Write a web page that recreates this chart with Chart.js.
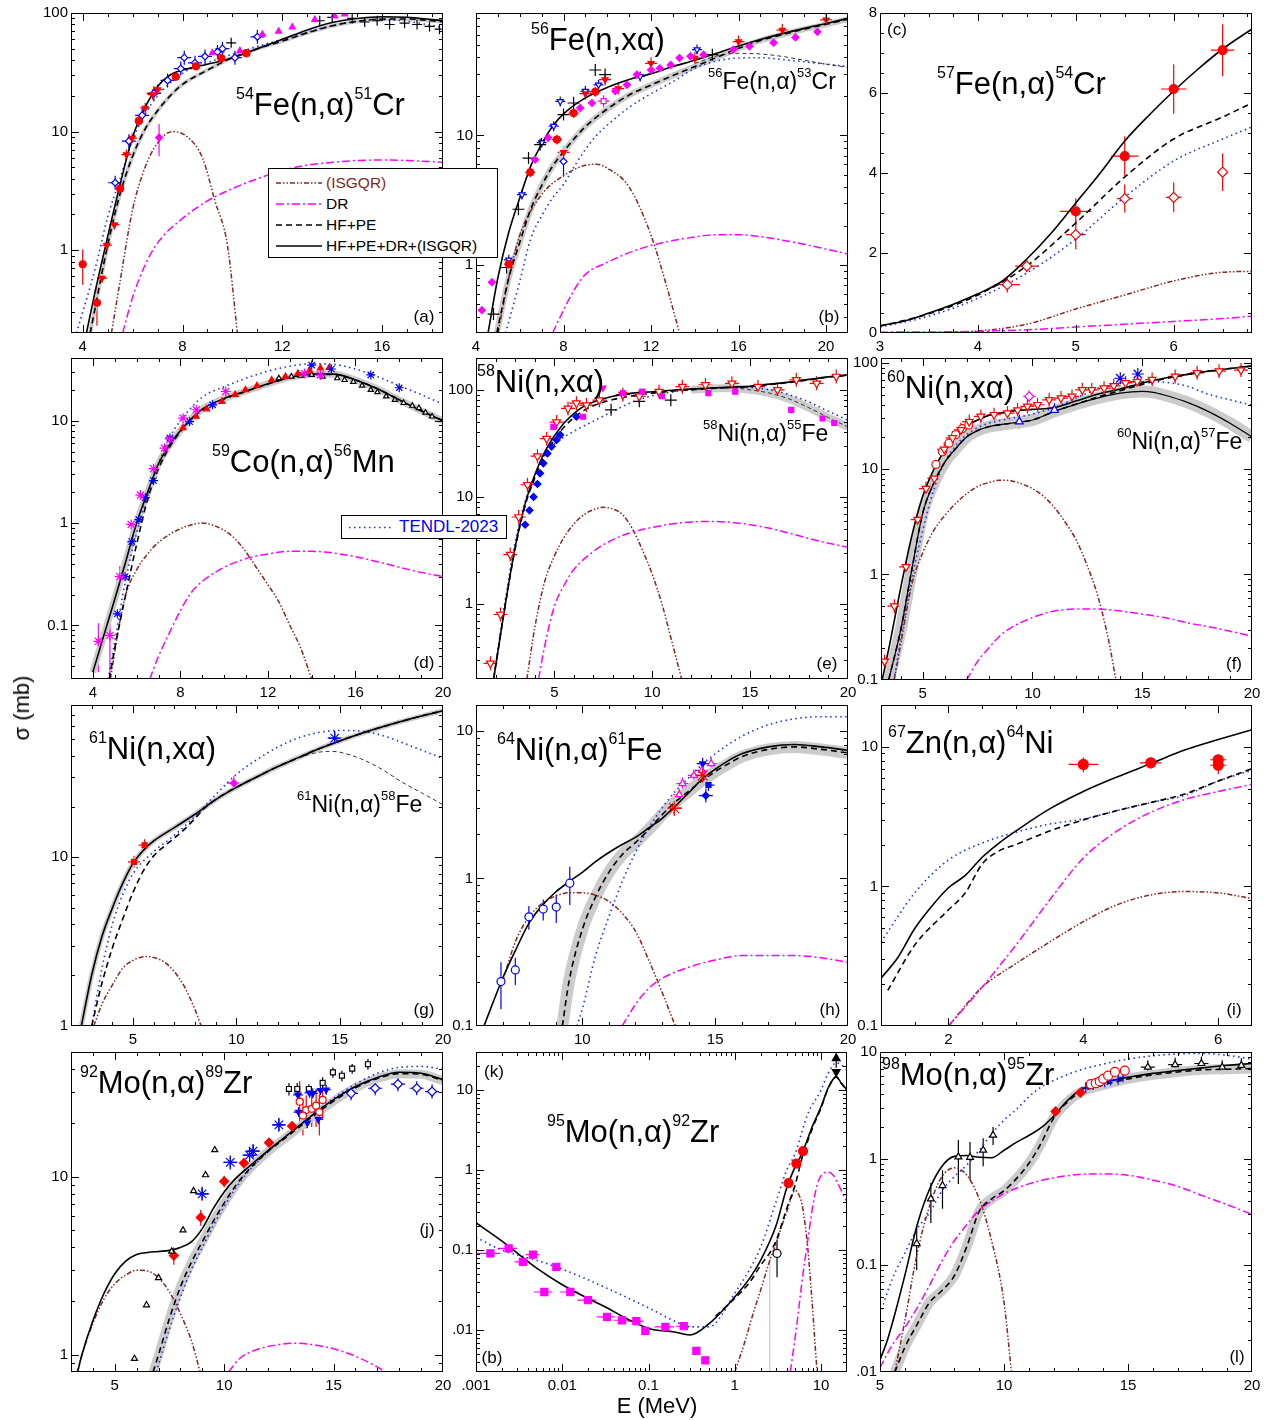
<!DOCTYPE html>
<html lang="en">
<head>
<meta charset="UTF-8">
<title>(n,alpha) cross sections</title>
<script src="https://cdn.jsdelivr.net/npm/chart.js"></script>
<style>
  body { margin: 0; background: #fff; font-family: "Liberation Sans", Arial, sans-serif; }
  #page { position: relative; width: 1271px; height: 1420px; overflow: hidden; }
  canvas { position: absolute; z-index: 1; }
  .ttl { position: absolute; z-index: 2; font-size: 31px; line-height: 31px; white-space: nowrap; color: #000; }
  .ttl sup { font-size: 16px; position: relative; top: -16px; vertical-align: baseline; }
  .ttl.sub { font-size: 23px; line-height: 23px; }
  .ttl.sub sup { font-size: 13px; top: -12px; }
  .tag { position: absolute; z-index: 2; font-size: 17px; transform: translate(-50%, -50%); }
  .axt { position: absolute; z-index: 2; font-size: 22px; white-space: nowrap; transform: translate(-50%, -50%); }
  .lgd { position: absolute; z-index: 3; background: #fff; border: 1px solid #000; box-sizing: border-box; }
  .lgd svg { position: absolute; left: 0; top: 0; }
  .lgd span { position: absolute; white-space: nowrap; font-size: 15.5px; line-height: 18px; }
</style>
</head>
<body>
<div id="page">
  <!-- reaction labels -->
  <div class="ttl" style="left:236px;top:89px"><sup>54</sup>Fe(n,α)<sup>51</sup>Cr</div>
  <div class="ttl" style="left:531px;top:24px"><sup>56</sup>Fe(n,xα)</div>
  <div class="ttl sub" style="left:708px;top:70px"><sup>56</sup>Fe(n,α)<sup>53</sup>Cr</div>
  <div class="ttl" style="left:937px;top:68px"><sup>57</sup>Fe(n,α)<sup>54</sup>Cr</div>
  <div class="ttl" style="left:212px;top:446px"><sup>59</sup>Co(n,α)<sup>56</sup>Mn</div>
  <div class="ttl" style="left:477px;top:366px"><sup>58</sup>Ni(n,xα)</div>
  <div class="ttl sub" style="left:703px;top:422px"><sup>58</sup>Ni(n,α)<sup>55</sup>Fe</div>
  <div class="ttl" style="left:887px;top:372px"><sup>60</sup>Ni(n,xα)</div>
  <div class="ttl sub" style="left:1117px;top:430px"><sup>60</sup>Ni(n,α)<sup>57</sup>Fe</div>
  <div class="ttl" style="left:89px;top:733px"><sup>61</sup>Ni(n,xα)</div>
  <div class="ttl sub" style="left:297px;top:793px"><sup>61</sup>Ni(n,α)<sup>58</sup>Fe</div>
  <div class="ttl" style="left:497px;top:734px"><sup>64</sup>Ni(n,α)<sup>61</sup>Fe</div>
  <div class="ttl" style="left:888px;top:727px"><sup>67</sup>Zn(n,α)<sup>64</sup>Ni</div>
  <div class="ttl" style="left:80px;top:1067px"><sup>92</sup>Mo(n,α)<sup>89</sup>Zr</div>
  <div class="ttl" style="left:547px;top:1116px"><sup>95</sup>Mo(n,α)<sup>92</sup>Zr</div>
  <div class="ttl" style="left:882px;top:1059px"><sup>98</sup>Mo(n,α)<sup>95</sup>Zr</div>

  <!-- panel tags -->
  <div class="tag" style="left:424px;top:317px">(a)</div>
  <div class="tag" style="left:829px;top:317px">(b)</div>
  <div class="tag" style="left:897px;top:30px">(c)</div>
  <div class="tag" style="left:424px;top:663px">(d)</div>
  <div class="tag" style="left:827px;top:664px">(e)</div>
  <div class="tag" style="left:1234px;top:664px">(f)</div>
  <div class="tag" style="left:424px;top:1010px">(g)</div>
  <div class="tag" style="left:830px;top:1010px">(h)</div>
  <div class="tag" style="left:1234px;top:1010px">(i)</div>
  <div class="tag" style="left:427px;top:1230px">(j)</div>
  <div class="tag" style="left:494px;top:1072px">(k)</div>
  <div class="tag" style="left:492px;top:1358px">(b)</div>
  <div class="tag" style="left:1237px;top:1357px">(l)</div>

  <!-- legends -->
  <div class="lgd" style="left:268px;top:168px;width:230px;height:90px">
    <svg width="230" height="90">
      <line x1="7" y1="14" x2="53" y2="14" stroke="#8b2323" stroke-width="1.5" stroke-dasharray="5 2 1.5 2 1.5 2"/>
      <line x1="7" y1="35" x2="53" y2="35" stroke="#ff00ff" stroke-width="1.5" stroke-dasharray="8 3 2 3"/>
      <line x1="7" y1="56" x2="53" y2="56" stroke="#000" stroke-width="1.5" stroke-dasharray="6 4"/>
      <line x1="7" y1="77" x2="53" y2="77" stroke="#000" stroke-width="1.5"/>
    </svg>
    <span style="left:57px;top:5px;color:#8b2323">(ISGQR)</span>
    <span style="left:57px;top:26px">DR</span>
    <span style="left:57px;top:47px">HF+PE</span>
    <span style="left:57px;top:68px">HF+PE+DR+(ISGQR)</span>
  </div>
  <div class="lgd" style="left:341px;top:515px;width:166px;height:24px">
    <svg width="166" height="24">
      <line x1="7" y1="11.5" x2="52" y2="11.5" stroke="#1a2cff" stroke-width="1.5" stroke-dasharray="1.5 3.5"/>
    </svg>
    <span style="left:57px;top:2px;color:#0000ff;font-size:17px">TENDL-2023</span>
  </div>

  <div class="axt" style="left:22px;top:708px;transform:translate(-50%,-50%) rotate(-90deg)">σ (mb)</div>
  <div class="axt" style="left:657px;top:1406px">E (MeV)</div>
</div>

<script>
const FONT = '"Liberation Sans", Arial, sans-serif';
const PADL = 48, PADT = 12, PADR = 18, PADB = 26;

// ---------- (a) 54Fe(n,a)51Cr ----------
const a_isgqr = [[5.15,0.2],[5.5,0.55],[6,2.2],[6.5,5],[7,8],[7.6,10],[8.2,9],[8.8,6],[9.3,2.6],[9.8,1.1],[10.2,0.2]];
const a_dr = [[5.6,0.2],[6,0.4],[6.5,0.75],[7,1.15],[8,1.85],[9,2.6],[10,3.3],[11,4],[12,4.7],[13,5.2],[14,5.5],[15,5.7],[16,5.75],[17,5.7],[18.5,5.5]];
const a_hfpe = [[4.3,0.2],[5,1.1],[5.5,3],[6,6.2],[6.5,10.5],[7,15],[7.5,20],[8,25],[9,33],[10,42],[11,50],[12,58],[13,68],[14,78],[15,85],[16,89],[17,89],[18,86],[18.5,84]];
const a_total = [[4.15,0.2],[4.5,0.45],[5,1.3],[5.5,3.6],[6,9],[6.5,16],[7,24],[7.5,30],[8,33],[8.5,35],[9,37],[10,42],[11,50],[12,60],[13,72],[14,83],[15,90],[16,93],[17,92],[18,88],[18.5,86]];
const a_tendl = [[3.75,0.2],[4.5,0.7],[5,1.9],[5.5,4],[6,8.5],[6.5,14],[7,20],[8,31],[9,38],[10,45],[12,60],[14,78],[15,85],[16,88],[17,85],[18.5,75]];
const a_redC = [[4,0.76],[4.57,0.36],[5.5,3.3],[6.25,12.3],[7.73,29],[8.54,35.5],[9.55,41.7],[10.56,45.8]];
const a_redC_err = [0.25,0.13,0.4,1.2,0,0,0,0];
const a_redV = [[4.77,0.58],[4.97,1.1],[5.27,1.64],[5.75,6.4],[5.98,8.8],[6.5,15.8],[6.8,20.5],[7.0,22.6]];
const a_magD = [[7.06,8.9]];
const a_magT = [[9.2,46],[10.3,48],[11.2,66],[11.85,70],[12.4,76],[13.3,88],[14.1,94],[14.5,98]];
const a_blueD = [[5.3,3.7],[5.85,8.3],[6.38,13.7],[6.85,21],[7.4,27],[7.93,34],[8.07,42],[8.5,38],[8.9,43],[9.4,47],[9.6,50],[10.1,42],[11.0,63]];
const a_blk = [[9.95,56],[13.5,86],[14,92],[14.8,90],[15.3,84],[15.8,86],[16.3,80],[16.9,82],[17.4,80],[17.9,77],[18.3,73]];

// ---------- (b) 56Fe(n,xa) ----------
const b_total = [[4.55,0.3],[5,0.8],[5.5,1.8],[6,3.3],[6.5,5.8],[7,8.6],[7.5,11.8],[8,14.7],[9,19.5],[10,23.5],[11,27],[12,30],[13,34],[14,38],[15,43],[16,49],[17,55],[18,61],[19,67],[20,73],[21,80]];
const b_hfpe = [[4.95,0.3],[5.5,0.8],[6,1.5],[6.5,2.7],[7,4.1],[7.5,5.8],[8,7.5],[8.5,9.5],[9,11.7],[10,16],[11,20.5],[12,24.5],[13,29],[14,34],[15,40],[16,47],[17,54],[18,60],[19,66],[20,72],[21,79]];
const b_part = [[14,36],[15,41],[15.5,42.5],[16,43],[17,42.5],[18,40.7],[19,38],[20,35.5],[21,33.5]];
const b_tendl = [[5.35,0.3],[6,0.75],[6.5,1.6],[7,2.4],[7.5,3.3],[8,4.2],[8.5,5.8],[9,7.8],[9.5,10],[10,12],[11,16.5],[12,21],[13,26],[14,33],[15,37.5],[16,39.6],[17,39.8],[18,38.5],[19,37],[20,35.5],[21,34]];
const b_isgqr = [[5,0.3],[5.5,0.8],[6,1.7],[7,3.5],[8,4.9],[9,5.9],[9.5,6],[10,5.6],[11,4],[12,1.7],[12.7,0.7],[13.3,0.3]];
const b_dr = [[7.5,0.3],[8,0.45],[8.5,0.65],[9,0.85],[10,1.05],[11,1.25],[12,1.42],[13,1.55],[14,1.65],[15,1.72],[16,1.72],[17,1.66],[18,1.56],[19,1.45],[20,1.33],[21,1.22]];
const b_magD = [[4.27,0.45],[4.73,0.74],[6.7,6.5],[7.3,9.6],[8.76,16.3],[9.3,17.8],[10.36,22],[10.9,24.6],[11.35,29.5],[12,32],[12.4,33],[12.9,35],[13.3,39.6],[13.8,40.8],[14.4,42],[15.76,46],[16.5,48.7],[17.6,52],[18.6,57],[19.6,63]];
const b_redC = [[5.5,1.02],[6.48,5.2],[7.7,9.3],[8.46,14.9],[9.45,21.7]];
const b_redV = [[8,7.4],[9,21],[9.9,27],[10.5,23],[12,36],[14,39.6],[16,53],[18,65],[20,78]];
const b_blk = [[4.8,0.42],[5.4,0.96],[5.94,2.7],[6.4,6.7],[6.93,8.5],[8,14.5],[8.46,17.8],[9.45,32],[9.9,29.5],[14.8,42]];
const b_blueV = [[5.5,1.1],[6.1,3.5],[7,8.8],[7.55,11.8],[7.85,18.3],[9,22],[9.6,24.6],[11.5,28.5],[14.1,46]];
const b_blueD = [[8,6.3]];
const b_magS = [[9.83,18.4]];

// ---------- (c) 57Fe(n,a)54Cr ----------
const c_total = [[3,0.18],[3.25,0.3],[3.5,0.5],[3.75,0.72],[4,0.98],[4.25,1.3],[4.5,1.85],[4.75,2.5],[5,3.25],[5.25,4.0],[5.5,4.8],[5.75,5.45],[6,6.05],[6.25,6.6],[6.5,7.1],[6.8,7.6]];
const c_hfpe = [[3,0.17],[3.5,0.48],[4,0.95],[4.5,1.68],[5,2.75],[5.5,3.9],[6,4.85],[6.5,5.4],[6.8,5.75]];
const c_tendl = [[3,0.15],[3.5,0.42],[4,0.87],[4.5,1.5],[5,2.35],[5.5,3.4],[6,4.3],[6.5,4.85],[6.8,5.15]];
const c_isgqr = [[3,0],[3.5,0.01],[4,0.05],[4.5,0.22],[5,0.6],[5.5,0.95],[6,1.3],[6.5,1.52],[6.8,1.54]];
const c_dr = [[3,0.02],[4,0.04],[4.5,0.08],[5,0.15],[5.5,0.22],[6,0.29],[6.5,0.36],[6.8,0.42]];
const c_redC = [[5,3.04],[5.5,4.42],[6,6.1],[6.5,7.07]];
const c_redC_ey = [0.33,0.5,0.62,0.65];
const c_redC_ex = [0.16,0.14,0.13,0.12];
const c_redD = [[4.3,1.21],[4.5,1.67],[5,2.46],[5.5,3.36],[6,3.39],[6.5,4.02]];
const c_redD_ey = [0.2,0.15,0.37,0.35,0.37,0.47];
const c_redD_ex = [0.13,0.12,0.1,0.08,0.08,0];

// ---------- (d) 59Co(n,a)56Mn ----------
const d_total = [[4,0.035],[4.5,0.08],[5,0.18],[5.5,0.42],[6,1],[6.5,2],[7,3.8],[7.5,5.8],[8,8],[8.5,10.5],[9,13],[10,16.5],[11,19.5],[12,23],[13,26.5],[14,28.5],[15,28.5],[16,25],[17,20.5],[18,16],[19,12.5],[20,10]];
const d_hfpe = [[4.75,0.03],[5,0.06],[5.5,0.2],[6,0.62],[6.5,1.7],[7,3.4],[7.5,5.5],[8,7.8],[8.5,10.3],[9,12.8],[10,16.3],[11,19.3],[12,22.8],[13,26.3],[14,28.3],[15,28.3],[16,25],[17,20.5],[18,16],[19,12.5],[20,10]];
const d_tendl = [[4.7,0.03],[5,0.07],[5.5,0.28],[6,0.8],[6.5,1.9],[7,3.8],[7.5,6.8],[8,10],[9,17],[10,21.5],[11,26],[12,30.5],[13,34],[14,36],[15,35.5],[16,32],[17,27],[18,22],[19,18],[20,14.5]];
const d_isgqr = [[4.8,0.03],[5.2,0.1],[5.5,0.2],[6,0.35],[6.5,0.5],[7,0.65],[8,0.88],[9,1],[10,0.85],[10.5,0.7],[11,0.52],[11.5,0.36],[12,0.25],[12.5,0.17],[13,0.1],[13.5,0.06],[14,0.03]];
const d_dr = [[6.6,0.03],[7,0.05],[7.5,0.085],[8,0.14],[8.5,0.21],[9,0.27],[10,0.37],[11,0.45],[12,0.5],[13,0.53],[14,0.53],[15,0.51],[16,0.47],[17,0.42],[18,0.37],[19,0.33],[20,0.3]];
const d_mag = [[4.25,0.07],[4.78,0.08],[5.23,0.3],[5.75,0.97],[6.17,1.88],[6.77,3.4],[7.27,5.4],[7.52,6.6],[8.12,10.6],[8.72,12.8],[10.07,19.3],[13.67,29],[14.4,28]];
const d_mag_err = [0.035,0.05,0.08,0,0,0,0,0,0,0,0,0,0];
const d_blue = [[5.12,0.13],[5.47,0.3],[5.78,0.66],[6.1,1.08],[6.4,1.77],[6.77,2.6],[7.52,6.8],[8.42,9.8],[9.47,14.3],[14,35],[14.9,32],[16.7,28],[18,21]];
const d_red = [[8.12,8.5],[8.72,11],[9.2,13],[9.9,15.4],[10.5,18],[10.97,20],[11.5,22],[12.17,25],[12.8,27],[13.37,29],[13.9,31],[14.4,32.7],[14.8,33]];
const d_blk = [[12.5,26],[13.07,27],[13.5,27.5],[14,28],[14.5,27],[15.17,26],[15.5,25],[15.9,24],[16.3,22],[16.7,20],[17,19],[17.4,17.3],[17.8,16],[18.2,14.9],[18.6,14],[18.9,13.3],[19.2,12],[19.5,11]];

// ---------- (e) 58Ni(n,xa) ----------
const e_total = [[1.9,0.2],[2.2,0.45],[2.5,1],[3,3.4],[3.5,8.5],[4,16],[4.5,26],[5,37],[5.5,49],[6,60],[6.5,70],[7,77],[8,87],[9,93],[10,96],[11,99],[12,102],[13,104],[14,106],[15,108],[16,113],[17,118],[18,125],[19,132],[20,138]];
const e_hfpe = [[1.9,0.2],[2.2,0.45],[2.5,1],[3,3.3],[3.5,8.2],[4,15],[4.5,24],[5,34],[5.5,45],[6,55],[6.5,64],[7,71],[8,81],[9,88],[10,93],[11,97],[12,100],[13,103],[14,105],[15,107],[16,112],[17,117],[18,124],[19,131],[20,137]];
const e_part = [[12,100],[13,103],[14,104],[15,100],[16,93],[17,82],[18,68],[19,55],[20,45]];
const e_tendl = [[1.9,0.2],[2.5,1.1],[3,3.8],[3.5,9],[4,16],[4.5,24],[5,31],[6,41],[7,51],[8,63],[9,77],[10,88],[11,95],[12,100],[13,103],[14,105],[15,105],[16,100],[17,90],[18,77],[19,63],[20,52]];
const e_isgqr = [[3.6,0.2],[4,0.6],[4.5,1.6],[5,2.8],[5.5,4.2],[6,5.6],[6.5,6.8],[7,7.6],[7.5,8],[8,7.7],[8.5,6.8],[9,5],[9.5,3.2],[10,1.9],[10.5,1],[11,0.45],[11.5,0.2]];
const e_dr = [[4.2,0.2],[4.5,0.4],[5,0.95],[5.5,1.5],[6,2.1],[7,3.1],[8,4],[9,4.7],[10,5.2],[11,5.6],[12,5.85],[13,5.9],[14,5.8],[15,5.5],[16,5.1],[17,4.6],[18,4.1],[19,3.7],[20,3.4]];
const e_redV = [[1.74,0.28],[2.25,0.8],[2.75,2.9],[3.18,6.5],[3.63,13],[4.14,24],[4.61,35],[5.12,50],[5.7,67],[6.13,75],[6.64,72],[7.3,80],[8.5,90],[9.34,87],[10.35,96],[11.54,107],[12.72,111],[14.07,115],[15.4,107],[16.4,100],[17.36,124],[18.4,115],[19.4,133]];
const e_mag = [[4.95,45],[6.47,56],[8.5,93],[9.5,96],[10.5,87],[12.87,93],[14.24,96],[17.1,65],[18.7,54],[19.3,49]];
const e_magV = [[7.48,104]];
const e_blue = [[3.51,5.5],[3.73,7.5],[3.94,10],[4.14,13.2],[4.27,16.6],[4.44,20.6],[4.65,25.5],[4.86,29.5],[5.12,34],[5.3,38],[6.13,56]];
const e_blk = [[7.9,65],[9.34,78],[10.95,80]];

// ---------- (f) 60Ni(n,xa) ----------
const f_total = [[3.15,0.1],[3.5,0.22],[4,0.75],[4.5,2.3],[5,5.5],[5.5,9.8],[6,15],[6.5,21],[7,25.5],[7.5,29],[8,32],[9,35],[10,36.5],[11,38],[12,44],[13,51],[14,57],[15,65],[16,72],[17,78],[18,84],[19,89],[20,94]];
const f_hfpe = [[3.45,0.1],[4,0.3],[4.5,1.1],[5,3.8],[5.5,7.3],[6,11.5],[6.5,15.5],[7,20],[7.5,23],[8,25],[9,27],[10,29],[11,35],[12,41],[13,48],[14,55],[15,63],[16,71],[17,78],[18,84],[19,89],[20,94]];
const f_part = [[3.45,0.1],[4,0.3],[4.5,1.1],[5,3.8],[5.5,7.3],[6,11.5],[6.5,15.5],[7,20],[7.5,23],[8,25],[9,27],[10,29],[11,35],[12,41],[13,47],[14,52],[15,54],[15.5,53],[16,50],[17,43],[18,35],[19,27],[20,20]];
const f_tendl = [[3.7,0.1],[4,0.25],[4.5,0.9],[5,2.6],[5.5,6.3],[6,11.5],[6.5,16.5],[7,21],[7.5,24.5],[8,27],[9,30],[10,33],[11,38],[12,47],[13,57],[14,64],[15,67],[16,66],[17,61],[18,51],[19,45],[20,40]];
const f_isgqr = [[3.7,0.1],[4,0.22],[4.5,0.8],[5,1.6],[5.5,2.6],[6,3.6],[6.5,4.7],[7,5.8],[7.5,6.8],[8,7.4],[8.5,7.8],[9,7.7],[9.5,7.2],[10,6.5],[10.5,5.5],[11,4.3],[11.5,3.1],[12,2.1],[12.5,1.2],[13,0.6],[13.5,0.22],[13.8,0.1]];
const f_dr = [[7,0.1],[7.5,0.15],[8,0.2],[8.5,0.26],[9,0.31],[10,0.39],[11,0.45],[12,0.47],[13,0.47],[14,0.45],[15,0.42],[16,0.39],[17,0.35],[18,0.32],[19,0.29],[20,0.26]];
const f_redV = [[3.26,0.15],[3.71,0.5],[4.24,1.18],[4.77,3.3],[5.15,6.5],[5.53,8.1],[5.98,15.3],[6.36,19.6],[6.74,23.4],[7.12,28],[7.65,31.3],[8.25,32.5],[8.86,33.6],[9.32,36],[9.77,39],[10.23,40.4],[10.76,45],[11.3,46.7],[11.8,48.5],[12.27,56],[12.7,56],[13.26,58],[13.7,61],[14.24,65],[14.77,67],[15.45,70],[16.5,75],[17.5,81],[18.5,84],[19.5,86]];
const f_redO = [[5.6,11],[5.9,14.5],[6.2,17.5],[6.5,21],[6.8,24],[7.1,26]];
const f_magD = [[9.85,48.5]];
const f_blueT = [[9.4,28],[11,36]];
const f_blueS = [[14.0,72],[14.8,79]];

// ---------- (g) 61Ni(n,xa) ----------
const g_total = [[2.5,1],[3,2],[3.5,3.4],[4,5],[4.5,7],[5,9.2],[5.5,11],[6,12.5],[7,15],[8,18],[9,22],[10,26],[11,30],[12,34.5],[13,39],[14,44],[15,49],[16,54],[17,59],[18,64],[19,69],[20,74]];
const g_hfpe = [[3,1],[3.5,1.8],[4,2.9],[4.5,4.3],[5,6.2],[5.5,8.3],[6,10.2],[6.5,11.6],[7,13],[7.5,14.7],[8,17],[8.5,19.8],[9,22],[10,26],[11,30],[12,34.5],[13,39],[14,44],[15,49],[16,54],[17,59],[18,64],[19,69],[20,74]];
const g_part = [[13,39],[14,42],[14.5,42.5],[15,42],[16,38.5],[17,33.5],[18,28],[19,24],[20,20.5]];
const g_tendl = [[3,1],[3.5,2.2],[4,4],[4.5,6],[5,8],[6,10.8],[7,13.5],[8,17.5],[9,23.5],[10,31],[11,38],[12,45],[13,51],[14,55],[15,56.5],[16,56],[17,53],[18,48],[19,43],[20,38.5]];
const g_isgqr = [[3.1,1],[3.5,1.35],[4,1.75],[4.5,2.2],[5,2.45],[5.6,2.58],[6,2.55],[6.5,2.4],[7,2.1],[7.5,1.7],[8,1.25],[8.3,1]];
const g_red = [[5.05,9.4],[5.56,11.8]];
const g_mag = [[9.88,27.5]];
const g_blue = [[14.76,50.9]];

// ---------- (h) 64Ni(n,a)61Fe ----------
const h_total = [[6.3,0.1],[7,0.21],[7.5,0.33],[8,0.5],[8.5,0.66],[9,0.81],[9.5,0.95],[10,1.1],[10.5,1.3],[11,1.5],[11.5,1.7],[12,1.9],[12.5,2.2],[13,2.55],[13.5,3.1],[14,3.8],[14.5,4.7],[15,5.5],[15.5,6.3],[16,7],[17,7.8],[18,8.1],[19,7.8],[20,7.4]];
const h_hfpe = [[9.25,0.1],[9.5,0.2],[10,0.45],[10.5,0.75],[11,1.1],[11.5,1.45],[12,1.75],[12.5,2.15],[13,2.7],[13.5,3.3],[14,3.9],[14.5,4.6],[15,5.3],[15.5,6],[16,6.7],[17,7.5],[18,7.8],[19,7.5],[20,7.1]];
const h_tendl = [[9.8,0.1],[10,0.13],[10.5,0.3],[11,0.55],[11.5,0.95],[12,1.5],[12.5,2.2],[13,3],[13.5,3.9],[14,4.8],[14.5,5.9],[15,7],[16,9.2],[17,11],[18,12.1],[19,12.5],[20,12.5]];
const h_isgqr = [[7,0.2],[7.5,0.38],[8,0.55],[8.5,0.68],[9,0.76],[9.5,0.8],[10,0.8],[10.5,0.77],[11,0.7],[11.5,0.58],[12,0.44],[12.5,0.28],[13,0.17],[13.5,0.1]];
const h_dr = [[11.5,0.1],[12,0.14],[12.5,0.18],[13,0.21],[14,0.25],[15,0.28],[16,0.3],[17,0.3],[18,0.3],[19,0.29],[20,0.27]];
const h_blueO = [[6.94,0.2],[7.48,0.24],[7.99,0.55],[8.53,0.62],[9.02,0.64],[9.53,0.93]];
const h_blueO_err = [0.07,0.05,0.1,0.1,0.14,0.27];
const h_redS = [[13.46,3.0],[14.53,5.0]];
const h_magT = [[13.65,3.7],[13.77,4.4],[14.2,5],[14.5,5.4],[14.85,6.0]];
const h_blueV = [[14.53,6.0]];
const h_blueSq = [[14.75,4.3]];
const h_blueD = [[14.65,3.65]];

// ---------- (i) 67Zn(n,a)64Ni ----------
const i_total = [[1,0.22],[1.25,0.31],[1.5,0.5],[1.75,0.72],[2,0.98],[2.25,1.2],[2.5,1.62],[2.75,2.05],[3,2.5],[3.5,3.6],[4,4.8],[4.5,6.1],[5,7.6],[5.5,9.5],[6,11.3],[6.5,13.3]];
const i_hfpe = [[1.1,0.18],[1.5,0.38],[2,0.68],[2.25,0.9],[2.5,1.45],[2.75,1.8],[3,2],[3.5,2.5],[4,3],[4.5,3.5],[5,4],[5.5,4.6],[6,5.7],[6.5,7]];
const i_tendl = [[1,0.4],[1.5,0.9],[2,1.55],[2.5,2.05],[3,2.45],[3.5,2.8],[4,3.05],[4.5,3.5],[5,4],[5.5,4.5],[6,5.7],[6.5,6.8]];
const i_dr = [[2,0.1],[2.5,0.19],[3,0.38],[3.5,0.8],[4,1.6],[4.5,2.5],[5,3.4],[5.5,4.2],[6,4.8],[6.5,5.4]];
const i_isgqr = [[2,0.1],[2.5,0.19],[3,0.28],[3.5,0.4],[4,0.56],[4.5,0.74],[5,0.87],[5.5,0.92],[6,0.9],[6.5,0.82]];
const i_red = [[4,7.5],[5,7.7],[6,8.1],[6,7.4]];
const i_red_ey = [0.9,0.7,0.7,1.0];
const i_red_ex = [0.22,0.16,0.12,0.12];

// ---------- (j) 92Mo(n,a)89Zr ----------
const j_total = [[3.3,0.8],[3.5,1],[4,1.55],[4.5,2.2],[5,2.85],[5.5,3.35],[6,3.65],[6.5,3.75],[7,3.8],[7.5,3.85],[8,4.0],[8.5,4.3],[9,5.1],[9.5,6.6],[10,8.2],[10.5,9.7],[11,11],[12,14],[13,17.5],[14,22],[15,27],[16,32],[17,36],[18,38.5],[19,38],[20,35]];
const j_hfpe = [[6.75,0.8],[7,1.0],[7.5,1.6],[8,2.4],[8.5,3.3],[9,4.3],[9.5,5.6],[10,7.1],[10.5,8.8],[11,10.5],[12,13.8],[13,17.2],[14,21.5],[15,26.5],[16,31.5],[17,35.5],[18,37.8],[19,37.5],[20,34.5]];
const j_tendl = [[6.9,0.8],[7.5,1.4],[8,2.1],[8.5,3],[9,4],[9.5,5.3],[10,6.8],[10.5,8.5],[11,10.3],[12,13.8],[13,17.5],[14,22],[15,27.5],[16,33],[17,38],[18,41],[19,41.5],[20,40]];
const j_isgqr = [[3.3,0.8],[3.5,1],[4,1.5],[4.5,2.05],[5,2.5],[5.5,2.8],[6,2.98],[6.5,2.95],[7,2.7],[7.5,2.25],[8,1.7],[8.5,1.2],[8.9,0.8]];
const j_dr = [[10.2,0.8],[10.7,0.95],[11.5,1.07],[12.5,1.14],[13.3,1.16],[14,1.14],[15,1.08],[16,0.98],[16.8,0.88],[17.4,0.8]];
const j_blkT = [[5.9,0.95],[6.45,1.9],[7.0,2.7],[7.6,3.8],[8.12,5],[8.6,8.3],[9.15,10.2],[9.57,14.1]];
const j_redD = [[7.7,3.6],[8.93,5.9],[10,9.4],[10.9,11.9],[12.05,15.5],[13.1,19.2]];
const j_redD_err = [0.4,0.6,0.7,0.8,0.9,1];
const j_blueS = [[8.99,8],[10.28,12],[11.16,13.2],[11.32,13.9],[12.5,19.5]];
const j_blkSq = [[12.96,31],[13.34,31],[13.87,31],[14.5,33.6],[14.97,38.4],[15.38,36.8],[15.85,40.3],[16.57,42.7]];
const j_blkSq_err = [2.5,2.5,2,2.5,2.5,2.5,2.5,3];
const j_blueD = [[15.8,29.3],[16.9,31.3],[17.94,33],[18.8,31.3],[19.5,30]];
const j_blueV = [[13.37,28.7],[13.9,29.5],[14.05,29.3],[14.4,30.5],[14.66,30.7],[13.4,23],[13.8,20],[14.3,21]];
const j_redO = [[13.45,26.3],[13.75,23.6],[14.0,24],[14.2,25],[14.5,26.9],[13.6,22],[14.35,23]];
const j_redO_err = [8,5,5,6,6,5,6];

// ---------- (k) 95Mo(n,a)92Zr ----------
const k_total = [[0.001,0.22],[0.002,0.13],[0.005,0.06],[0.01,0.037],[0.03,0.02],[0.1,0.0105],[0.2,0.0095],[0.3,0.0087],[0.5,0.012],[1,0.026],[1.5,0.045],[2,0.075],[3,0.2],[4,0.6],[5,1.1],[6,1.6],[8,3.6],[10,6.2],[12,10.5],[14,14],[15,14.8],[17,12.5],[20,10]];
const k_hfpe = [[0.6,0.015],[1,0.025],[1.5,0.04],[2,0.065],[2.5,0.09],[3,0.13],[4,0.33],[5,0.65],[6,1.4],[8,3.4],[10,6],[12,10.3],[14,13.8],[15,14.6],[17,12.3],[20,9.8]];
const k_tendl = [[0.001,0.145],[0.002,0.1],[0.005,0.075],[0.01,0.058],[0.03,0.035],[0.1,0.019],[0.2,0.013],[0.3,0.011],[0.5,0.011],[1,0.029],[2,0.11],[3,0.4],[4,1.0],[5,1.6],[7,5],[10,10],[12,16],[15,22],[18,20],[20,18]];
const k_isgqr = [[1,0.003],[1.3,0.007],[1.6,0.015],[2,0.032],[2.5,0.07],[3,0.12],[3.5,0.2],[4,0.3],[4.5,0.45],[5,0.56],[5.5,0.5],[6,0.38],[6.5,0.22],[7,0.11],[7.5,0.045],[8,0.018],[8.5,0.007],[9,0.003]];
const k_dr = [[4.4,0.003],[5,0.008],[5.5,0.018],[6,0.04],[7,0.13],[8,0.35],[9,0.65],[10,0.85],[12,0.95],[14,0.85],[16,0.65],[18,0.5],[20,0.4]];
const k_gap = [[2.55,0.003],[2.55,0.09]];
const k_mag = [[0.00147,0.091],[0.00239,0.105],[0.0035,0.0715],[0.00458,0.088],[0.0062,0.030],[0.00854,0.062],[0.0124,0.030],[0.0199,0.0237],[0.033,0.0147],[0.0493,0.0133],[0.0723,0.013],[0.0919,0.0098],[0.157,0.011],[0.256,0.0112],[0.359,0.0055],[0.456,0.0042]];
const k_mag_ex = [0.00045,0.0006,0.0007,0.0008,0.0015,0,0.003,0.005,0.008,0.01,0.015,0,0.04,0.05,0,0];
const k_red = [[4.2,0.69],[5.18,1.21],[6.18,1.73]];
const k_blkO = [[3.09,0.091]];
const k_blkUp = [[15,25]];
const k_blkDn = [[15,17]];

// ---------- (l) 98Mo(n,a)95Zr ----------
const l_total = [[5,0.013],[5.3,0.02],[5.6,0.035],[6,0.08],[6.5,0.24],[7,0.52],[7.5,0.85],[8,1.05],[8.5,1.07],[9,1.03],[9.5,1.02],[10,1.2],[10.5,1.42],[11,1.65],[11.5,1.95],[12,2.5],[12.5,3.4],[13,4.3],[13.5,4.8],[14,5.2],[15,5.8],[16,6.3],[17,6.7],[18,7.1],[19,7.5],[20,7.8]];
const l_hfpe = [[5.6,0.01],[6,0.017],[6.5,0.028],[7,0.045],[7.5,0.058],[8,0.08],[8.5,0.15],[9,0.32],[9.5,0.42],[10,0.5],[10.5,0.65],[11,0.9],[11.5,1.4],[12,2.4],[12.5,3.3],[13,4.1],[14,4.9],[15,5.6],[16,6.1],[17,6.5],[18,6.8],[19,6.9],[20,7]];
const l_tendl = [[5,0.035],[5.5,0.075],[6,0.13],[6.5,0.22],[7,0.31],[7.5,0.5],[8,0.68],[8.5,0.87],[9,1.2],[9.5,1.7],[10,2.3],[10.5,2.9],[11,3.8],[11.5,4.7],[12,5.4],[13,6.7],[14,7.7],[15,8.6],[16,9.2],[17,9.6],[18,9.7],[19,9.3],[20,8.6]];
const l_isgqr = [[5.6,0.01],[6,0.03],[6.5,0.13],[7,0.36],[7.5,0.68],[8,0.82],[8.5,0.7],[9,0.42],[9.5,0.17],[10,0.045],[10.3,0.01]];
const l_dr = [[5,0.011],[5.5,0.018],[6,0.026],[6.5,0.04],[7,0.065],[7.5,0.11],[8,0.17],[8.5,0.24],[9,0.33],[9.5,0.4],[10,0.47],[11,0.58],[12,0.66],[13,0.71],[14,0.72],[15,0.7],[16,0.63],[17,0.55],[18,0.45],[19,0.37],[20,0.3]];
const l_blkT = [[6.48,0.16],[7.05,0.42],[7.52,0.56],[8.16,1.04],[8.63,1.03],[9.16,1.2],[9.56,1.66]];
const l_blkT_err = [0.07,0.17,0.22,0.46,0.4,0.35,0.32];
const l_redD = [[12.08,2.77],[13.08,4.15]];
const l_redO = [[13.5,5.0],[13.7,5.1],[13.86,5.3],[14.0,5.6],[14.2,6.0],[14.47,6.5],[14.87,6.7]];
const l_blue = [[13.3,4.6],[13.6,4.9],[14.06,5.2],[14.3,5.4],[14.6,5.5],[14.8,5.8]];
const l_blkHi = [[15.8,7.2],[16.9,7.6],[17.96,7.8],[18.8,7.2],[19.57,7.5]];

// ---------- helpers ----------
const P = a => a.map(([x, y]) => ({x, y}));

const LS = {
  tot:  {c: '#000', w: 1.6, d: []},
  hf:   {c: '#000', w: 1.6, d: [6, 4]},
  te:   {c: '#1a2cff', w: 1.6, d: [1.5, 3.5]},
  dr:   {c: '#ff00ff', w: 1.5, d: [8, 3, 2, 3]},
  iq:   {c: '#8b2323', w: 1.5, d: [5, 2, 1.5, 2, 1.5, 2]},
  pd:   {c: '#333', w: 1, d: [4, 3]},
  ps:   {c: '#000', w: 1.2, d: []},
  gap:  {c: '#bbb', w: 1, d: []},
  band: {c: '#cbcbcb', w: 10, d: []}
};
function ln(data, kind, w) {
  const s = LS[kind];
  return {data: P(data), showLine: true, pointRadius: 0, pointHitRadius: 0,
          borderColor: s.c, borderWidth: w || s.w, borderDash: s.d,
          cubicInterpolationMode: 'monotone', fill: false};
}
const SHAPES = {o: ['circle', 0], v: ['triangle', 180], '^': ['triangle', 0], d: ['rectRot', 0],
                s: ['rect', 0], '+': ['cross', 0], '*': ['star', 0]};
function mk(data, shape, color, open, o = {}) {
  const [ps, rot] = SHAPES[shape];
  return {data: P(data), showLine: false, pointStyle: ps, pointRotation: rot,
          pointRadius: o.r || 3.5, pointBackgroundColor: open ? '#fff' : color,
          pointBorderColor: color, pointBorderWidth: 1.2,
          errY: o.ey, errX: o.ex, cross: o.c};
}

function makeTicks(ax) {
  const t = [];
  if (ax.log) {
    for (let e = Math.floor(Math.log10(ax.min)); e <= Math.ceil(Math.log10(ax.max)); e++)
      for (let m = 1; m < 10; m++) {
        const v = +(m * Math.pow(10, e)).toPrecision(6);
        if (v >= ax.min * 0.9999 && v <= ax.max * 1.0001) t.push({value: v});
      }
  } else {
    const n0 = Math.ceil(ax.min / ax.step - 1e-6), n1 = Math.floor(ax.max / ax.step + 1e-6);
    for (let n = n0; n <= n1; n++) t.push({value: +(n * ax.step).toFixed(6)});
  }
  return t;
}
function labelOf(ax, v) {
  let major;
  if (ax.log) { const l = Math.log10(v); major = Math.abs(l - Math.round(l)) < 1e-6; }
  else { const r = v / ax.label; major = Math.abs(r - Math.round(r)) < 1e-6; }
  if (!major) return '';
  const k = String(+v.toPrecision(6));
  return (ax.lab && ax.lab[k]) || k;
}
function scaleOpts(ax, isX) {
  return {
    type: ax.log ? 'logarithmic' : 'linear',
    min: ax.min, max: ax.max, bounds: 'data',
    grid: {display: false, drawTicks: false},
    border: {display: false},
    ticks: {autoSkip: false, maxRotation: 0, padding: isX ? 5 : 3, color: '#000',
            font: {family: FONT, size: 15}, callback: v => labelOf(ax, v)},
    afterBuildTicks: s => { s.ticks = makeTicks(ax); },
    afterFit: s => { if (isX) s.height = PADB; else s.width = PADL; }
  };
}

// inward ticks on all four sides + frame
const frameTicks = {
  id: 'frameTicks',
  afterDraw(chart) {
    const {ctx, chartArea: a} = chart;
    const sx = chart.scales.x, sy = chart.scales.y;
    ctx.save();
    ctx.strokeStyle = '#000';
    ctx.lineWidth = 1;
    ctx.strokeRect(Math.round(a.left) + 0.5, Math.round(a.top) + 0.5, Math.round(a.width) - 1, Math.round(a.height) - 1);
    ctx.beginPath();
    sx.ticks.forEach(t => {
      const p = Math.round(sx.getPixelForValue(t.value)) + 0.5;
      if (p < a.left + 2 || p > a.right - 2) return;
      const L = t.label ? 8 : 4;
      ctx.moveTo(p, a.bottom); ctx.lineTo(p, a.bottom - L);
      ctx.moveTo(p, a.top); ctx.lineTo(p, a.top + L);
    });
    sy.ticks.forEach(t => {
      const p = Math.round(sy.getPixelForValue(t.value)) + 0.5;
      if (p < a.top + 2 || p > a.bottom - 2) return;
      const L = t.label ? 8 : 4;
      ctx.moveTo(a.left, p); ctx.lineTo(a.left + L, p);
      ctx.moveTo(a.right, p); ctx.lineTo(a.right - L, p);
    });
    ctx.stroke();
    ctx.restore();
  }
};

// error bars / cross hairs for the measured points
const errBars = {
  id: 'errBars',
  beforeDatasetsDraw(chart) {
    const {ctx, chartArea: a} = chart;
    const sx = chart.scales.x, sy = chart.scales.y;
    ctx.save();
    ctx.beginPath();
    ctx.rect(a.left, a.top, a.width, a.height);
    ctx.clip();
    chart.data.datasets.forEach((ds, i) => {
      if (!ds.errY && !ds.errX && !ds.cross) return;
      const meta = chart.getDatasetMeta(i);
      ctx.strokeStyle = ds.pointBorderColor;
      ctx.lineWidth = 1.2;
      ctx.beginPath();
      meta.data.forEach((pt, j) => {
        const d = ds.data[j];
        if (ds.errY && ds.errY[j]) {
          let lo = d.y - ds.errY[j];
          if (lo <= 0 && sy.type === 'logarithmic') lo = sy.min / 2;
          ctx.moveTo(pt.x, sy.getPixelForValue(d.y + ds.errY[j]));
          ctx.lineTo(pt.x, sy.getPixelForValue(lo));
        }
        if (ds.errX && ds.errX[j]) {
          ctx.moveTo(sx.getPixelForValue(d.x - ds.errX[j]), pt.y);
          ctx.lineTo(sx.getPixelForValue(d.x + ds.errX[j]), pt.y);
        }
        if (ds.cross) {
          ctx.moveTo(pt.x - ds.cross, pt.y); ctx.lineTo(pt.x + ds.cross, pt.y);
          ctx.moveTo(pt.x, pt.y - ds.cross); ctx.lineTo(pt.x, pt.y + ds.cross);
        }
      });
      ctx.stroke();
    });
    ctx.restore();
  }
};

const RED = '#ff0000', MAG = '#ff00ff', BLUE = '#0000ff', BLK = '#000';

const PANELS = [
  {box: [71, 13, 372, 320], x: {min: 3.53, max: 18.44, step: 1, label: 4}, y: {log: true, min: 0.2, max: 100},
   pts: [mk(a_redC, 'o', RED, false, {ey: a_redC_err, c: 4}), mk(a_redV, 'v', RED, false, {c: 5}),
         mk(a_magD, 'd', MAG, false, {ey: [2.7]}), mk(a_magT, '^', MAG, false),
         mk(a_blueD, 'd', BLUE, true, {c: 7}), mk(a_blk, '+', BLK, false, {r: 5})],
   lines: [ln(a_total, 'tot'), ln(a_hfpe, 'hf'), ln(a_tendl, 'te'), ln(a_dr, 'dr'), ln(a_isgqr, 'iq')],
   bands: [ln(a_hfpe, 'band', 4)]},
  {box: [476, 13, 372, 320], x: {min: 4, max: 21, step: 1, label: 4}, y: {log: true, min: 0.3, max: 88},
   pts: [mk(b_magD, 'd', MAG, false), mk(b_redC, 'o', RED, false, {c: 5}), mk(b_redV, 'v', RED, false, {c: 6}),
         mk(b_blk, '+', BLK, false, {r: 6}), mk(b_blueV, 'v', BLUE, true, {c: 5}),
         mk(b_blueD, 'd', BLUE, true, {ey: [1.5]}), mk(b_magS, 's', MAG, true, {c: 6})],
   lines: [ln(b_total, 'tot'), ln(b_hfpe, 'hf'), ln(b_part, 'pd'), ln(b_tendl, 'te'), ln(b_dr, 'dr'), ln(b_isgqr, 'iq')],
   bands: [ln(b_hfpe, 'band', 6)]},
  {box: [880, 13, 372, 320], x: {min: 3, max: 6.8, step: 0.25, label: 1}, y: {min: 0, max: 8, step: 0.5, label: 2},
   pts: [mk(c_redC, 'o', RED, false, {ey: c_redC_ey, ex: c_redC_ex, r: 4.5}),
         mk(c_redD, 'd', RED, true, {ey: c_redD_ey, ex: c_redD_ex, r: 5})],
   lines: [ln(c_total, 'tot'), ln(c_hfpe, 'hf'), ln(c_tendl, 'te'), ln(c_dr, 'dr'), ln(c_isgqr, 'iq')],
   bands: []},
  {box: [71, 358, 372, 321], x: {min: 3, max: 20, step: 1, label: 4}, y: {log: true, min: 0.03, max: 41},
   pts: [mk(d_mag, '*', MAG, false, {ey: d_mag_err, r: 5}), mk(d_blue, '*', BLUE, false, {r: 4.5}),
         mk(d_red, '^', RED, false), mk(d_blk, '^', BLK, true, {r: 3})],
   lines: [ln(d_total, 'tot'), ln(d_hfpe, 'hf'), ln(d_tendl, 'te'), ln(d_dr, 'dr'), ln(d_isgqr, 'iq')],
   bands: [ln(d_total, 'band', 7)]},
  {box: [476, 358, 372, 321], x: {min: 1, max: 20, step: 1, label: 5}, y: {log: true, min: 0.2, max: 198},
   pts: [mk(e_mag, 's', MAG, false), mk(e_magV, 'v', MAG, false), mk(e_blue, 'd', BLUE, false),
         mk(e_redV, 'v', RED, true, {c: 7, r: 4.5}), mk(e_blk, '+', BLK, false, {r: 6})],
   lines: [ln(e_total, 'tot'), ln(e_hfpe, 'hf'), ln(e_part, 'pd'), ln(e_tendl, 'te'), ln(e_dr, 'dr'), ln(e_isgqr, 'iq')],
   bands: [ln(e_part, 'band', 8)]},
  {box: [881, 358, 371, 322], x: {min: 3.1, max: 20, step: 1, label: 5}, y: {log: true, min: 0.1, max: 112},
   pts: [mk(f_redV, 'v', RED, true, {c: 7, r: 4.5}), mk(f_redO, 'o', RED, true, {r: 4}),
         mk(f_magD, 'd', MAG, true, {c: 6, r: 4.5}), mk(f_blueT, '^', BLUE, true, {c: 7, r: 4.5}),
         mk(f_blueS, '*', BLUE, false, {r: 6})],
   lines: [ln(f_total, 'tot'), ln(f_hfpe, 'hf'), ln(f_part, 'ps'), ln(f_tendl, 'te'), ln(f_dr, 'dr'), ln(f_isgqr, 'iq')],
   bands: [ln(f_part, 'band', 12)]},
  {box: [71, 705, 372, 321], x: {min: 2, max: 20, step: 1, label: 5}, y: {log: true, min: 1, max: 80},
   pts: [mk(g_red, 's', RED, false, {c: 6}), mk(g_mag, 'd', MAG, false, {c: 7}), mk(g_blue, '*', BLUE, false, {r: 6, c: 7})],
   lines: [ln(g_total, 'tot'), ln(g_hfpe, 'hf'), ln(g_part, 'pd'), ln(g_tendl, 'te'), ln(g_isgqr, 'iq')],
   bands: [ln(g_total, 'band', 5)]},
  {box: [476, 705, 372, 321], x: {min: 6, max: 20, step: 1, label: 5}, y: {log: true, min: 0.1, max: 15},
   pts: [mk(h_blueO, 'o', BLUE, true, {ey: h_blueO_err, r: 4}), mk(h_redS, '*', RED, false, {r: 7, c: 8}),
         mk(h_magT, '^', MAG, true, {c: 6, r: 4}), mk(h_blueV, 'v', BLUE, false, {c: 6}),
         mk(h_blueSq, 's', BLUE, false, {c: 6}), mk(h_blueD, 'd', BLUE, false, {c: 7})],
   lines: [ln(h_total, 'tot'), ln(h_hfpe, 'hf'), ln(h_tendl, 'te'), ln(h_dr, 'dr'), ln(h_isgqr, 'iq')],
   bands: [ln(h_hfpe, 'band', 12)]},
  {box: [881, 705, 371, 321], x: {min: 1, max: 6.5, step: 0.5, label: 2}, y: {log: true, min: 0.1, max: 20},
   pts: [mk(i_red, 'o', RED, false, {ey: i_red_ey, ex: i_red_ex, r: 5})],
   lines: [ln(i_total, 'tot'), ln(i_hfpe, 'hf'), ln(i_tendl, 'te'), ln(i_dr, 'dr'), ln(i_isgqr, 'iq')],
   bands: []},
  {box: [71, 1052, 372, 320], x: {min: 3, max: 20, step: 1, label: 5}, y: {log: true, min: 0.8, max: 50},
   pts: [mk(j_redO, 'o', RED, true, {ey: j_redO_err, r: 3.5}), mk(j_blueV, 'v', BLUE, false, {c: 5}),
         mk(j_blkT, '^', BLK, true, {r: 3.5}), mk(j_redD, 'd', RED, false, {ey: j_redD_err, r: 4.5}),
         mk(j_blueS, '*', BLUE, false, {r: 6, c: 7}), mk(j_blkSq, 's', BLK, true, {ey: j_blkSq_err, r: 3.5}),
         mk(j_blueD, 'd', BLUE, true, {c: 7, r: 4.5})],
   lines: [ln(j_total, 'tot'), ln(j_hfpe, 'hf'), ln(j_tendl, 'te'), ln(j_dr, 'dr'), ln(j_isgqr, 'iq')],
   bands: [ln(j_hfpe, 'band', 9)]},
  {box: [476, 1052, 371, 320], x: {log: true, min: 0.001, max: 20, lab: {'0.001': '.001'}},
   y: {log: true, min: 0.003, max: 30, lab: {'0.01': '.01'}},
   pts: [mk(k_mag, 's', MAG, false, {ex: k_mag_ex, r: 5}), mk(k_red, 'o', RED, false, {r: 4.5}),
         mk(k_blkO, 'o', BLK, true, {ey: [0.045], r: 4}), mk(k_blkUp, '^', BLK, false, {ey: [6], r: 4.5}),
         mk(k_blkDn, 'v', BLK, false, {r: 4.5})],
   lines: [ln(k_total, 'tot'), ln(k_hfpe, 'hf'), ln(k_tendl, 'te'), ln(k_dr, 'dr'), ln(k_isgqr, 'iq'), ln(k_gap, 'gap')],
   bands: []},
  {box: [880, 1052, 372, 320], x: {min: 5, max: 20, step: 1, label: 5}, y: {log: true, min: 0.01, max: 10, lab: {'0.01': '.01'}},
   pts: [mk(l_blkT, '^', BLK, true, {ey: l_blkT_err, r: 4}), mk(l_redD, 'd', RED, false, {r: 4.5}),
         mk(l_redO, 'o', RED, true, {r: 4.5}), mk(l_blue, '+', BLUE, false, {r: 5, ey: [0.6, 0.6, 0.6, 0.6, 0.6, 0.6]}),
         mk(l_blkHi, '^', BLK, true, {c: 7, r: 4})],
   lines: [ln(l_total, 'tot'), ln(l_hfpe, 'hf'), ln(l_tendl, 'te'), ln(l_dr, 'dr'), ln(l_isgqr, 'iq')],
   bands: [ln(l_hfpe, 'band', 10)]}
];

const page = document.getElementById('page');
PANELS.forEach(p => {
  const [L, T, W, H] = p.box;
  const cv = document.createElement('canvas');
  cv.width = W + PADL + PADR;
  cv.height = H + PADT + PADB;
  cv.style.left = (L - PADL) + 'px';
  cv.style.top = (T - PADT) + 'px';
  cv.style.width = cv.width + 'px';
  cv.style.height = cv.height + 'px';
  page.appendChild(cv);
  new Chart(cv, {
    type: 'scatter',
    data: {datasets: [...p.pts, ...p.lines, ...p.bands]},
    options: {
      responsive: false, animation: false, devicePixelRatio: 1, events: [],
      layout: {padding: {left: 0, top: PADT, right: PADR, bottom: 0}},
      plugins: {legend: {display: false}, tooltip: {enabled: false}},
      scales: {x: scaleOpts(p.x, true), y: scaleOpts(p.y, false)}
    },
    plugins: [errBars, frameTicks]
  });
});
</script>
</body>
</html>
